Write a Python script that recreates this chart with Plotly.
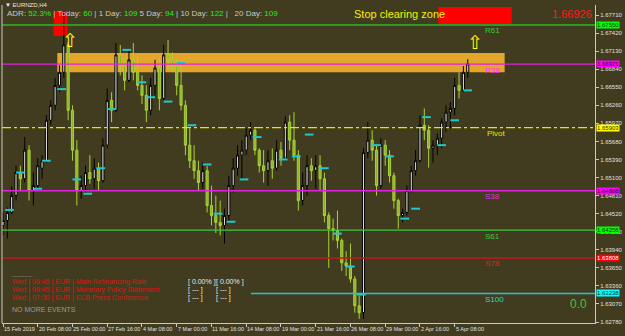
import plotly.graph_objects as go

# ---------------- data (EURNZD, H4 candles, sampled every 2 bars) ----------------
bar_index = list(range(0, 216, 2))

opens = [1.6433,1.6441,1.6454,1.6481,1.6518,1.6508,1.6554,1.6489,1.6497,1.6525,
         1.6537,1.6602,1.6626,1.6658,1.6679,1.6723,1.6618,1.6554,1.6489,1.6497,
         1.6518,1.6508,1.6525,1.6505,1.6562,1.6634,1.6618,1.6707,1.6690,1.6666,
         1.6699,1.6679,1.6658,1.6642,1.6618,1.6658,1.6686,1.6637,1.6707,1.6699,
         1.6690,1.6658,1.6626,1.6562,1.6537,1.6521,1.6502,1.6521,1.6465,1.6449,
         1.6438,1.6433,1.6449,1.6497,1.6525,1.6546,1.6554,1.6578,1.6586,1.6554,
         1.6529,1.6521,1.6537,1.6525,1.6554,1.6541,1.6599,1.6570,1.6546,1.6473,
         1.6497,1.6529,1.6521,1.6529,1.6508,1.6449,1.6428,1.6425,1.6409,1.6373,
         1.6368,1.6347,1.6304,1.6293,1.6550,1.6570,1.6554,1.6497,1.6562,1.6546,
         1.6513,1.6473,1.6449,1.6454,1.6489,1.6521,1.6537,1.6594,1.6586,1.6557,
         1.6562,1.6573,1.6599,1.6615,1.6621,1.6658,1.6650,1.6679]
highs = [1.6454,1.6462,1.6496,1.6529,1.6529,1.6575,1.6562,1.6518,1.6541,1.6546,
         1.6610,1.6634,1.6670,1.6690,1.6777,1.6728,1.6626,1.6570,1.6513,1.6529,
         1.6546,1.6541,1.6534,1.6573,1.6653,1.6647,1.6726,1.6723,1.6702,1.6715,
         1.6726,1.6707,1.6674,1.6658,1.6670,1.6699,1.6703,1.6723,1.6731,1.6711,
         1.6702,1.6695,1.6634,1.6589,1.6562,1.6537,1.6534,1.6529,1.6497,1.6481,
         1.6473,1.6460,1.6513,1.6541,1.6562,1.6570,1.6589,1.6599,1.6589,1.6557,
         1.6554,1.6554,1.6557,1.6570,1.6567,1.6608,1.6610,1.6615,1.6554,1.6518,
         1.6546,1.6541,1.6546,1.6546,1.6518,1.6454,1.6444,1.6457,1.6412,1.6392,
         1.6404,1.6352,1.6320,1.6557,1.6599,1.6586,1.6562,1.6573,1.6570,1.6554,
         1.6518,1.6476,1.6460,1.6497,1.6529,1.6554,1.6610,1.6621,1.6594,1.6570,
         1.6581,1.6605,1.6626,1.6631,1.6670,1.6679,1.6689,1.6700]
lows = [1.6417,1.6412,1.6451,1.6473,1.6489,1.6502,1.6473,1.6465,1.6489,1.6508,
        1.6534,1.6594,1.6618,1.6647,1.6670,1.6602,1.6537,1.6465,1.6476,1.6486,
        1.6500,1.6492,1.6489,1.6502,1.6557,1.6599,1.6615,1.6674,1.6650,1.6663,
        1.6666,1.6650,1.6628,1.6599,1.6610,1.6642,1.6618,1.6634,1.6682,1.6679,
        1.6642,1.6618,1.6546,1.6525,1.6508,1.6489,1.6492,1.6454,1.6433,1.6421,
        1.6417,1.6404,1.6438,1.6486,1.6513,1.6508,1.6546,1.6570,1.6546,1.6518,
        1.6502,1.6497,1.6508,1.6521,1.6529,1.6537,1.6554,1.6537,1.6457,1.6465,
        1.6481,1.6505,1.6492,1.6489,1.6438,1.6365,1.6409,1.6396,1.6360,1.6352,
        1.6341,1.6293,1.6283,1.6283,1.6541,1.6537,1.6481,1.6492,1.6529,1.6502,
        1.6460,1.6428,1.6438,1.6449,1.6486,1.6513,1.6534,1.6570,1.6526,1.6534,
        1.6546,1.6557,1.6583,1.6589,1.6610,1.6637,1.6647,1.6670]
closes = [1.6441,1.6454,1.6481,1.6518,1.6508,1.6554,1.6489,1.6497,1.6529,1.6537,
          1.6602,1.6626,1.6658,1.6679,1.6723,1.6618,1.6554,1.6489,1.6497,1.6518,
          1.6508,1.6525,1.6505,1.6562,1.6634,1.6618,1.6707,1.6690,1.6666,1.6699,
          1.6679,1.6658,1.6642,1.6618,1.6658,1.6686,1.6637,1.6707,1.6699,1.6690,
          1.6658,1.6626,1.6562,1.6537,1.6521,1.6502,1.6521,1.6465,1.6449,1.6438,
          1.6433,1.6449,1.6497,1.6525,1.6546,1.6554,1.6578,1.6586,1.6554,1.6529,
          1.6521,1.6537,1.6525,1.6554,1.6541,1.6599,1.6570,1.6546,1.6473,1.6497,
          1.6529,1.6521,1.6529,1.6508,1.6449,1.6428,1.6425,1.6409,1.6373,1.6368,
          1.6347,1.6304,1.6293,1.6550,1.6570,1.6554,1.6497,1.6562,1.6546,1.6513,
          1.6473,1.6449,1.6454,1.6489,1.6521,1.6537,1.6594,1.6586,1.6557,1.6562,
          1.6573,1.6599,1.6615,1.6621,1.6658,1.6650,1.6679,1.66926]

# daily open marks (cyan ticks)
mark_bars = [1,6,14,18,25,32,37,43,48,55,62,66,74,80,85,92,97,103,109,115,
             127,133,139,146,152,158,163,170,176,183,188,193,200,206,212]
mark_prices = [1.6458,1.6518,1.6492,1.6537,1.6652,1.6507,1.6484,1.6525,1.6620,1.6715,
               1.6663,1.6639,1.6632,1.6694,1.6594,1.6531,1.6452,1.6439,1.6507,1.6575,
               1.6539,1.6544,1.6579,1.6525,1.6420,1.6367,1.6322,1.6562,1.6544,1.6444,
               1.6460,1.6607,1.6562,1.6602,1.6650]

# fibonacci pivot levels
level_names = ["R61", "R38", "Pivot", "S38", "S61", "S78", "S100"]
level_values = [1.67550, 1.66921, 1.65903, 1.64888, 1.64256, 1.63808, 1.63238]
level_labels = ["1.67550", "1.66921", "1.65903", "1.64888", "1.64256", "1.63808", "1.63238"]
r78_value = 1.67998

zone_top, zone_bottom = 1.6710, 1.6679
zone_bars = [25, 231]

price_ticks = [1.62780,1.63070,1.63360,1.63650,1.63940,1.64230,1.64520,1.64810,1.65100,
               1.65390,1.65680,1.65970,1.66260,1.66550,1.66840,1.67130,1.67420,1.67710]
time_tick_bars = [0,16,32,48,64,80,96,112,128,144,160,176,192,208]
time_tick_labels = ["15 Feb 2019","20 Feb 08:00","25 Feb 00:00","27 Feb 16:00","4 Mar 08:00",
                    "7 Mar 00:00","11 Mar 16:00","14 Mar 08:00","19 Mar 00:00","21 Mar 16:00",
                    "26 Mar 08:00","29 Mar 00:00","2 Apr 16:00","5 Apr 08:00"]

adr_labels = ["ADR:", "| Today:", "| 1 Day:", "5 Day:", "| 10 Day:", "|   20 Day:"]
adr_values = ["52.3%", "60", "109", "94", "122", "109"]

news_rows = ["Wed | 06:45 | EUR | Main Refinancing Rate",
             "Wed | 06:45 | EUR | Monetary Policy Statement",
             "Wed | 07:30 | EUR | ECB Press Conference"]
news_vals = [["[ 0.00% ]", "[ 0.00% ]"], ["[ --- ]", "[ --- ]"], ["[ --- ]", "[ --- ]"]]
current_price = "1.66926"

# ---------------- layout helpers ----------------
W, H = 625, 336
ML, MR, MT, MB = 2, 25, 5, 13
PW, PH = W - ML - MR, H - MT - MB
def px(x):
    return (x - ML) / PW
def py(y):
    return (H - MB - y) / PH

BG = "#413C1F"
FONT = "Liberation Sans"
level_line_colors = ["#2F9A22", "#E020E0", "#E6E600", "#E020E0", "#3CC83C", "#C01818", "#1FC8D0"]
level_text_colors = ["#3CCB3C", "#FF30FF", "#E6E600", "#E030E0", "#3CCB3C", "#E02020", "#30D8D8"]
level_box_colors = ["#00FF00", "#FF00FF", "#FFFF00", "#FF00FF", "#00FF00", "#FF0000", "#00FFFF"]
level_box_text = ["#003000", "#300030", "#303000", "#300030", "#003000", "#FFFFFF", "#003030"]

fig = go.Figure()

fig.add_trace(go.Candlestick(
    x=bar_index, open=opens, high=highs, low=lows, close=closes,
    increasing=dict(line=dict(color="#000000", width=1), fillcolor="#DADADA"),
    decreasing=dict(line=dict(color="#A8D238", width=1), fillcolor="#8CB02E"),
    whiskerwidth=0, hoverinfo="skip"))

mx, my = [], []
for b, p in zip(mark_bars, mark_prices):
    mx += [b, b + 4, None]
    my += [p, p, None]
fig.add_trace(go.Scatter(x=mx, y=my, mode="lines", line=dict(color="#1FC8D0", width=2),
                         hoverinfo="skip"))

shapes = []
shapes.append(dict(type="rect", xref="x", yref="y", x0=zone_bars[0], x1=zone_bars[1],
                   y0=zone_bottom, y1=zone_top, fillcolor="#E3A62A", line=dict(width=0),
                   layer="below"))
shapes.append(dict(type="rect", xref="paper", yref="paper", x0=px(54), x1=px(68),
                   y0=py(36), y1=py(11), fillcolor="#FF0000", line=dict(width=0), layer="below"))
shapes.append(dict(type="rect", xref="paper", yref="paper", x0=px(442), x1=px(516),
                   y0=py(26), y1=py(7), fillcolor="#FF0000", line=dict(width=0), layer="above"))
for i, (n, v) in enumerate(zip(level_names, level_values)):
    x0 = px(253) if n == "S100" else 0
    dash = "dashdot" if n == "Pivot" else "solid"
    w = 2 if n == "R61" else 1.3
    shapes.append(dict(type="line", xref="paper", yref="y", x0=x0, x1=1, y0=v, y1=v,
                       line=dict(color=level_line_colors[i], width=w, dash=dash), layer="above"))
shapes.append(dict(type="line", xref="paper", yref="paper", x0=0, x1=0, y0=0, y1=1,
                   line=dict(color="#C8C8C8", width=1)))

ann = []
def txt(x, y, s, color, size, anchor="left", yref_data=False, yshift=0, **kw):
    ann.append(dict(x=px(x), y=(y if yref_data else py(y)), xref="paper",
                    yref=("y" if yref_data else "paper"), text=s, showarrow=False,
                    xanchor=anchor, yanchor="middle", yshift=yshift,
                    font=dict(color=color, size=size, family=FONT), **kw))

for i, (n, v) in enumerate(zip(level_names, level_values)):
    xx = 489 if n == "Pivot" else 487
    txt(xx, v, n, level_text_colors[i], 8, yref_data=True, yshift=-6)
    ann.append(dict(x=px(625), y=v, xref="paper", yref="y", text=level_labels[i], showarrow=False,
                    xanchor="right", yanchor="middle", bgcolor=level_box_colors[i],
                    borderpad=0, font=dict(color=level_box_text[i], size=6, family=FONT)))
txt(487, r78_value, "R78", "#E02020", 8, yref_data=True, yshift=-6)

for b, s in zip(time_tick_bars, time_tick_labels):
    ann.append(dict(x=b, y=py(329), xref="x", yref="paper", text=s, showarrow=False,
                    xanchor="left", yanchor="middle", xshift=-1,
                    font=dict(color="#E0E0E0", size=5.5, family=FONT)))

txt(3, 5, "▼ EURNZD,H4", "#E8E8E8", 6)
adr = ""
for lab, val in zip(adr_labels, adr_values):
    adr += f'<span style="color:#C8C8C8">{lab} </span><span style="color:#22EE22">{val}</span> '
txt(5, 14, adr, "#C8C8C8", 8)
txt(355, 14, "Stop clearing zone", "#F2F200", 11)
txt(599, 14, current_price, "#FF1A1A", 11, anchor="right")

txt(71, 41, "⇧", "#FFFF00", 19, anchor="center")
txt(479, 43, "⇧", "#FFFF00", 19, anchor="center")

txt(9, 274, "______", "#909090", 6)
for i, row in enumerate(news_rows):
    yy = 282 + 8 * i
    txt(10, yy, row, "#E01010", 7)
    txt(188, yy, news_vals[i][0], "#E8E8E8", 7)
    txt(216, yy, news_vals[i][1], "#E8E8E8", 7)
txt(10, 309, "NO MORE EVENTS", "#9A9A9A", 7)
txt(573, 304, "0.0", "#32CD32", 12)

fig.update_layout(
    width=W, height=H, margin=dict(l=ML, r=MR, t=MT, b=MB),
    paper_bgcolor=BG, plot_bgcolor=BG, showlegend=False,
    shapes=shapes, annotations=ann,
    xaxis=dict(range=[-0.46, 272.6], rangeslider=dict(visible=False), showgrid=False,
               zeroline=False, showline=True, linecolor="#C8C8C8", linewidth=1,
               tickvals=time_tick_bars, ticks="outside", ticklen=3, tickcolor="#C8C8C8",
               showticklabels=False),
    yaxis=dict(range=[1.62764, 1.67871], side="right", showgrid=False, zeroline=False,
               showline=True, linecolor="#C8C8C8", linewidth=1,
               tickvals=price_ticks, ticktext=[f"{v:.5f}" for v in price_ticks],
               ticks="outside", ticklen=3, tickcolor="#C8C8C8",
               tickfont=dict(color="#E0E0E0", size=6, family=FONT)),
)

fig.write_html("out.html")
